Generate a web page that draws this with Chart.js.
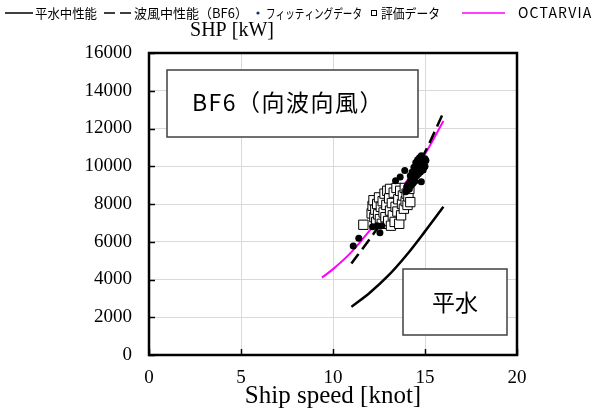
<!DOCTYPE html>
<html>
<head>
<meta charset="utf-8">
<script src="https://cdn.jsdelivr.net/npm/chart.js@4.4.1/dist/chart.umd.min.js"></script>
<style>
  html, body { margin: 0; padding: 0; background: #fff; }
  #wrap { width: 608px; height: 417px; position: relative; }
</style>
</head>
<body>
<div id="wrap"><canvas id="c" width="608" height="417"></canvas></div>
<script>
// Axis ticks
const speedTicks = [0, 5, 10, 15, 20];
const powerTicks = [0, 2000, 4000, 6000, 8000, 10000, 12000, 14000, 16000];

// Calm-water performance curve
const calmSpeed = [11, 12, 13, 14, 15, 16];
const calmPower = [2550, 3300, 4200, 5300, 6550, 7850];

// Head wind / head sea performance (BF6)
const bf6Speed = [11, 12, 13, 14, 15, 16];
const bf6Power = [4850, 6150, 7550, 9050, 10750, 12850];

// OCTARVIA estimate
const octSpeed = [9.4, 10, 11, 12, 13, 14, 15, 16];
const octPower = [4100, 4550, 5450, 6600, 7850, 9200, 10650, 12400];

// Fitting data (measured)
const fitSpeed = [11.10, 11.40, 12.15, 12.40, 12.55, 12.65,
  13.40, 13.65, 13.90, 14.80, 14.00, 14.10, 14.15, 14.20, 14.25, 14.30,
  14.20, 14.35, 14.40, 14.30, 14.45, 14.50, 14.40, 14.55, 14.60, 14.50,
  14.65, 14.70, 14.60, 14.75, 14.80, 14.70, 14.85, 14.90, 14.80, 14.95,
  15.00, 14.90, 15.05, 14.65, 14.55, 14.45, 14.35, 14.25, 14.75, 15.00,
  14.85, 14.60, 14.50, 14.95, 14.05, 13.95];
const fitPower = [5780, 6190, 6800, 6850, 6480, 6850,
  9230, 9430, 9780, 9180, 8900, 9050, 8800, 9200, 9000, 9350,
  9500, 9550, 9300, 9700, 9650, 9850, 9950, 10050, 9750, 10200,
  10100, 9900, 10350, 10200, 10000, 10450, 10300, 10100, 10550, 10250,
  10000, 9800, 10300, 9600, 9500, 9200, 9100, 9400, 9700, 10400,
  9900, 10150, 9600, 9950, 8750, 8650];

// Evaluation data (measured)
const evalSpeed = [12.10, 12.15, 12.20, 12.25, 12.30, 12.35, 12.40, 12.45, 12.50, 12.55,
  12.60, 12.65, 12.70, 12.75, 12.80, 12.85, 12.90, 12.95, 13.00, 13.05,
  13.10, 13.10, 13.15, 13.20, 13.25, 13.30, 13.35, 13.40, 13.45, 13.50,
  13.55, 13.60, 13.65, 13.70, 13.75, 13.80, 13.85, 13.90, 13.95, 14.00,
  14.05, 14.10, 14.15, 14.20, 11.65];
const evalPower = [7500, 7900, 8200, 7300, 7700, 7050, 8000, 7450, 8350, 7200,
  7850, 6950, 8150, 7550, 8550, 7300, 7950, 8700, 7100, 8300,
  7650, 8800, 6850, 8050, 7400, 8600, 7050, 7850, 8850, 7600,
  8250, 6950, 8700, 7400, 8000, 8450, 7750, 8850, 8150, 8550,
  7950, 8400, 8800, 8100, 6900];

const pairs = (xs, ys) => xs.map((x, i) => ({ x: x, y: ys[i] }));

const serif = '"Liberation Serif", "Times New Roman", serif';
const gothic = '"Noto Sans CJK JP", "Noto Sans", sans-serif';

// Frame, inward ticks, axis titles, text boxes and legend
const decorations = {
  id: 'decorations',
  afterDraw(chart) {
    const ctx = chart.ctx;
    const a = chart.chartArea;
    const xs = chart.scales.x, ys = chart.scales.y;
    ctx.save();

    // inward tick marks
    ctx.strokeStyle = '#000';
    ctx.lineWidth = 1.5;
    powerTicks.forEach(v => {
      const py = Math.round(ys.getPixelForValue(v)) + 0.5;
      ctx.beginPath(); ctx.moveTo(a.left, py); ctx.lineTo(a.left + 6, py); ctx.stroke();
    });
    speedTicks.forEach(v => {
      const px = Math.round(xs.getPixelForValue(v)) + 0.5;
      ctx.beginPath(); ctx.moveTo(px, a.bottom); ctx.lineTo(px, a.bottom - 6); ctx.stroke();
    });

    // plot frame
    ctx.lineWidth = 2.5;
    ctx.strokeRect(a.left, a.top, a.right - a.left, a.bottom - a.top);

    // axis titles
    ctx.fillStyle = '#000';
    ctx.textAlign = 'center';
    ctx.textBaseline = 'middle';
    ctx.font = '20px ' + serif;
    ctx.fillText('SHP [kW]', 232, 31);
    ctx.font = '25px ' + serif;
    ctx.fillText('Ship speed [knot]', 333, 396);

    // annotation boxes
    ctx.lineWidth = 1.5;
    ctx.strokeStyle = '#404040';
    ctx.fillStyle = '#fff';
    ctx.fillRect(167, 70, 251, 67);
    ctx.strokeRect(167, 70, 251, 67);
    ctx.fillRect(403, 269, 104, 66);
    ctx.strokeRect(403, 269, 104, 66);
    ctx.fillStyle = '#000';
    ctx.font = '23px ' + gothic;
    ctx.textAlign = 'left';
    ctx.letterSpacing = '1.5px';
    ctx.fillText('BF6（向波向風）', 192, 102);
    ctx.letterSpacing = '0px';
    ctx.textAlign = 'center';
    ctx.fillText('平水', 455, 302);

    // legend
    const ds = chart.data.datasets;
    const ly = 13;
    ctx.font = '13px ' + gothic;
    ctx.textAlign = 'left';
    ctx.textBaseline = 'middle';
    const drawLine = (x0, x1, color, dash) => {
      ctx.save();
      ctx.strokeStyle = color; ctx.lineWidth = 1.5; ctx.setLineDash(dash);
      ctx.beginPath(); ctx.moveTo(x0, ly); ctx.lineTo(x1, ly); ctx.stroke();
      ctx.restore();
    };
    drawLine(5, 33, '#000', []);
    ctx.fillText(ds[0].label, 35, ly, 62);
    drawLine(104, 131, '#000', [11, 5]);
    ctx.fillText(ds[1].label, 134, ly, 114);
    ctx.fillStyle = '#1f2f66';
    ctx.beginPath(); ctx.arc(258, ly, 1.6, 0, Math.PI * 2); ctx.fill();
    ctx.fillStyle = '#000';
    ctx.fillText(ds[3].label, 266, ly, 96);
    ctx.lineWidth = 1;
    ctx.strokeStyle = '#000';
    ctx.strokeRect(371.5, ly - 2.5, 5, 5);
    ctx.fillText(ds[4].label, 381, ly, 59);
    drawLine(462, 505, '#ff00ff', []);
    ctx.font = '14px ' + gothic;
    ctx.letterSpacing = '1.2px';
    ctx.fillText(ds[2].label, 518, ly, 89);
    ctx.letterSpacing = '0px';

    ctx.restore();
  }
};

new Chart(document.getElementById('c'), {
  type: 'scatter',
  data: {
    datasets: [
      {
        label: '平水中性能',
        data: pairs(calmSpeed, calmPower),
        showLine: true, borderColor: '#000', borderWidth: 2.5,
        pointRadius: 0, cubicInterpolationMode: 'monotone', order: 3
      },
      {
        label: '波風中性能（BF6）',
        data: pairs(bf6Speed, bf6Power),
        showLine: true, borderColor: '#000', borderWidth: 2.5, borderDash: [12, 6],
        pointRadius: 0, cubicInterpolationMode: 'monotone', order: 4
      },
      {
        label: 'OCTARVIA',
        data: pairs(octSpeed, octPower),
        showLine: true, borderColor: '#ff00ff', borderWidth: 2,
        pointRadius: 0, cubicInterpolationMode: 'monotone', order: 5
      },
      {
        label: 'フィッティングデータ',
        data: pairs(fitSpeed, fitPower),
        pointStyle: 'circle', pointRadius: 3.5,
        backgroundColor: '#000', borderColor: '#000', borderWidth: 0, order: 1
      },
      {
        label: '評価データ',
        data: pairs(evalSpeed, evalPower),
        pointStyle: 'rect', pointRadius: 6.6,
        backgroundColor: '#fff', borderColor: '#000', borderWidth: 1, order: 2
      }
    ]
  },
  options: {
    responsive: false,
    animation: false,
    devicePixelRatio: 1,
    layout: { padding: { top: 53, right: 91, bottom: 0, left: 0 } },
    plugins: { legend: { display: false }, tooltip: { enabled: false } },
    scales: {
      x: {
        type: 'linear', min: 0, max: 20,
        afterFit(s) { s.height = 62; },
        afterBuildTicks(s) { s.ticks = speedTicks.map(v => ({ value: v })); },
        grid: { color: '#d9d9d9', lineWidth: 1, drawTicks: false },
        border: { display: false },
        ticks: { padding: 12, color: '#000', font: { family: serif, size: 19 } }
      },
      y: {
        type: 'linear', min: 0, max: 16000,
        afterFit(s) { s.width = 149; },
        afterBuildTicks(s) { s.ticks = powerTicks.map(v => ({ value: v })); },
        grid: { color: '#d9d9d9', lineWidth: 1, drawTicks: false },
        border: { display: false },
        ticks: { padding: 17, color: '#000', font: { family: serif, size: 19 },
                 callback: v => String(v) }
      }
    }
  },
  plugins: [decorations]
});
</script>
</body>
</html>
